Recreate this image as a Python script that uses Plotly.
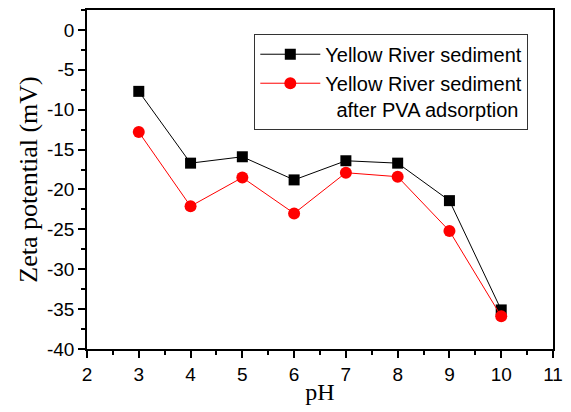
import plotly.graph_objects as go

ph = [3, 4, 5, 6, 7, 8, 9, 10]
sediment = [-7.7, -16.7, -15.9, -18.8, -16.4, -16.7, -21.4, -35.1]
after_pva = [-12.8, -22.1, -18.5, -23.0, -17.9, -18.4, -25.2, -35.9]
name1 = "Yellow River sediment"
name2 = "Yellow River sediment<br>  after PVA adsorption"
x_ticks = [2, 3, 4, 5, 6, 7, 8, 9, 10, 11]
y_ticks = [0, -5, -10, -15, -20, -25, -30, -35, -40]
y_ticktext = ["0", "-5", "-10", "-15", "-20", "-25", "-30", "-35", "-40"]

fig = go.Figure()
fig.add_trace(go.Scatter(x=ph, y=sediment, mode="lines+markers", name=name1,
                         line=dict(color="black", width=1),
                         marker=dict(symbol="square", size=11, color="black")))
fig.add_trace(go.Scatter(x=ph, y=after_pva, mode="lines+markers", name=name2,
                         line=dict(color="red", width=1),
                         marker=dict(symbol="circle", size=12, color="red")))

tickfont = dict(family="Arial, Liberation Sans", size=19, color="black")
fig.update_layout(
    width=571, height=412,
    margin=dict(l=87, r=13, t=8, b=63),
    plot_bgcolor="white", paper_bgcolor="white",
    showlegend=True,
    legend=dict(x=0.947, y=0.93, xanchor="right", yanchor="top",
                bordercolor="#333", borderwidth=1, bgcolor="white",
                font=dict(family="Arial, Liberation Sans", size=20, color="black"),
                valign="top", tracegroupgap=0, itemwidth=60),
    xaxis=dict(range=[2, 11], tickvals=x_ticks, showline=True, linecolor="black", linewidth=1.5,
               mirror=True, ticks="outside", ticklen=7, tickwidth=1.5, tickcolor="black",
               minor=dict(dtick=0.5, ticks="outside", ticklen=4, tickwidth=1.5, tickcolor="black"),
               showgrid=False, zeroline=False, tickfont=tickfont,
               title=dict(text="pH", font=dict(family="Times New Roman, Liberation Serif", size=24, color="black"), standoff=0)),
    yaxis=dict(range=[-40, 2.5], tickvals=y_ticks, ticktext=y_ticktext, showline=True, linecolor="black", linewidth=1.5,
               mirror=True, ticks="outside", ticklen=7, tickwidth=1.5, tickcolor="black",
               minor=dict(dtick=2.5, ticks="outside", ticklen=4, tickwidth=1.5, tickcolor="black"),
               showgrid=False, zeroline=False, tickfont=tickfont,
               title=dict(text="Zeta potential (mV)", font=dict(family="Times New Roman, Liberation Serif", size=26, color="black"), standoff=2)),
)
fig.write_html("out.html")
